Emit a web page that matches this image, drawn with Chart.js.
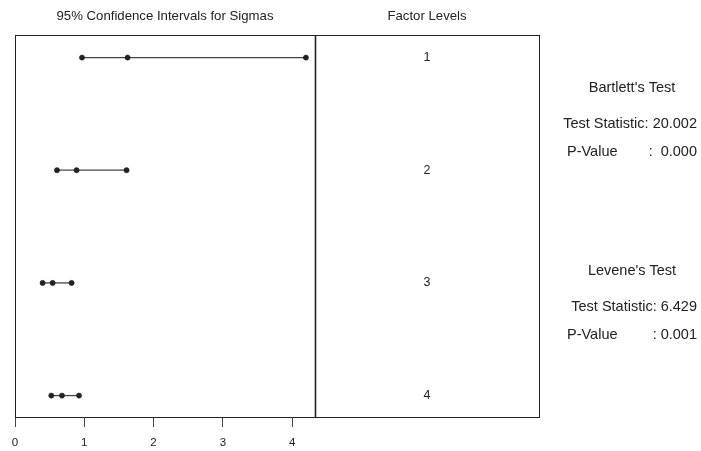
<!DOCTYPE html>
<html>
<head>
<meta charset="utf-8">
<script src="https://cdn.jsdelivr.net/npm/chart.js@4/dist/chart.umd.min.js"></script>
<style>
  html, body { margin: 0; padding: 0; background: #fff; }
  #wrap { width: 701px; height: 451px; }
</style>
</head>
<body>
<div id="wrap"><canvas id="c" width="701" height="451"></canvas></div>
<script>
// Factor levels and 95% confidence intervals for sigma
const levels = [1, 2, 3, 4];
const lowerCI = [0.967, 0.606, 0.398, 0.524];
const sigmas  = [1.625, 0.889, 0.543, 0.678];
const upperCI = [4.199, 1.610, 0.817, 0.924];
const xTicks  = [0, 1, 2, 3, 4];

// Test results shown beside the plot
const bartlett = { title: "Bartlett's Test", stat: "20.002", p: "0.000" };
const levene   = { title: "Levene's Test",   stat: "6.429",  p: "0.001" };

const FONT = '"Liberation Sans", Arial, sans-serif';
const INK = '#222';

const datasets = levels.map((lv, i) => ({
  label: 'Level ' + lv,
  data: [
    { x: lowerCI[i], y: lv },
    { x: sigmas[i],  y: lv },
    { x: upperCI[i], y: lv }
  ],
  showLine: true,
  borderColor: '#444',
  borderWidth: 1.3,
  pointRadius: 2.6,
  pointBackgroundColor: INK,
  pointBorderColor: INK,
  pointBorderWidth: 0.5
}));

const panelRight = 539;

const sidePanel = {
  id: 'sidePanel',
  afterDraw(chart) {
    const { ctx, chartArea: a, scales } = chart;
    const ys = scales.y;
    ctx.save();
    // frame of the interval plot
    ctx.strokeStyle = INK;
    ctx.lineWidth = 1;
    ctx.strokeRect(a.left + 0.5, a.top + 0.5, a.right - a.left, a.bottom - a.top);
    // factor-level panel
    ctx.strokeRect(a.right + 0.5, a.top + 0.5, panelRight - a.right, a.bottom - a.top);
    ctx.lineWidth = 1.6;
    ctx.beginPath();
    ctx.moveTo(a.right + 0.5, a.top);
    ctx.lineTo(a.right + 0.5, a.bottom + 1);
    ctx.stroke();

    ctx.fillStyle = INK;
    ctx.textBaseline = 'middle';
    ctx.textAlign = 'center';
    ctx.font = '13.2px ' + FONT;
    ctx.fillText('95% Confidence Intervals for Sigmas', 165, 16);
    const midPanel = (a.right + panelRight) / 2;
    ctx.fillText('Factor Levels', midPanel, 16);

    ctx.font = '12.5px ' + FONT;
    levels.forEach(lv => ctx.fillText(String(lv), midPanel, ys.getPixelForValue(lv)));

    // test statistics
    const drawTest = (t, y0, pGap) => {
      ctx.font = '14.5px ' + FONT;
      ctx.textAlign = 'center';
      ctx.fillText(t.title, 632, y0);
      ctx.textAlign = 'right';
      ctx.fillText('Test Statistic: ' + t.stat, 697, y0 + 36);
      ctx.textAlign = 'left';
      ctx.fillText('P-Value', 567, y0 + 64);
      ctx.textAlign = 'right';
      ctx.fillText(':' + pGap + t.p, 697, y0 + 64);
    };
    drawTest(bartlett, 88, '  ');
    drawTest(levene, 271, ' ');
    ctx.restore();
  }
};

new Chart(document.getElementById('c'), {
  type: 'scatter',
  data: { datasets },
  plugins: [sidePanel],
  options: {
    responsive: false,
    animation: false,
    layout: { padding: { left: 15, top: 35, right: 701 - 315, bottom: 0 } },
    plugins: { legend: { display: false }, tooltip: { enabled: false } },
    scales: {
      x: {
        type: 'linear',
        min: 0,
        max: 4.33,
        afterBuildTicks: s => { s.ticks = xTicks.map(v => ({ value: v })); },
        afterFit: s => { s.height = 34; },
        grid: { drawOnChartArea: false, drawTicks: true, tickLength: 10, color: '#444', lineWidth: 1 },
        border: { display: false },
        ticks: { color: INK, font: { family: FONT, size: 11.5 }, padding: 9, maxRotation: 0 }
      },
      y: {
        type: 'linear',
        reverse: true,
        min: 0.8,
        max: 4.19,
        display: false
      }
    }
  }
});
</script>
</body>
</html>
